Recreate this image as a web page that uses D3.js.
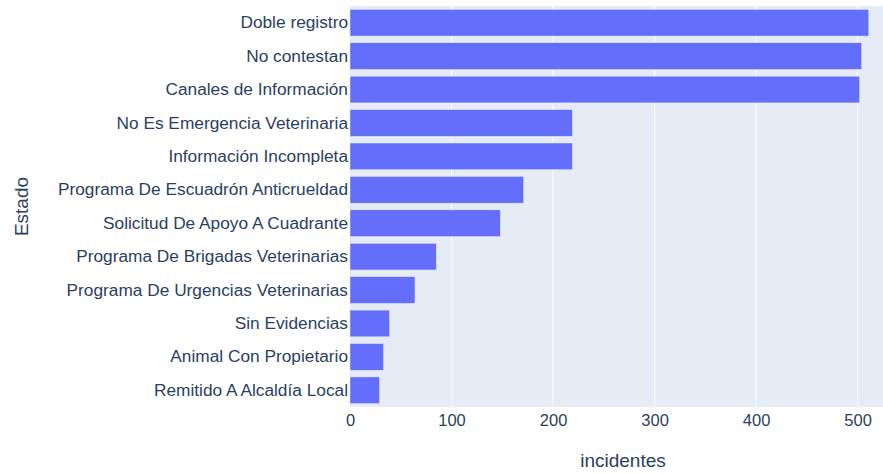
<!DOCTYPE html>
<html>
<head>
<meta charset="utf-8">
<script src="https://cdn.jsdelivr.net/npm/d3@7"></script>
<style>
  body { margin: 0; background: #fff; }
  text { font-family: "Liberation Sans", Arial, sans-serif; fill: #2a3f5f; }
</style>
</head>
<body>
<div id="chart"></div>
<script>
const width = 883;
const height = 473;

const categories = [
    "Doble registro",
    "No contestan",
    "Canales de Información",
    "No Es Emergencia Veterinaria",
    "Información Incompleta",
    "Programa De Escuadrón Anticrueldad",
    "Solicitud De Apoyo A Cuadrante",
    "Programa De Brigadas Veterinarias",
    "Programa De Urgencias Veterinarias",
    "Sin Evidencias",
    "Animal Con Propietario",
    "Remitido A Alcaldía Local"
];
const incidentes = [511, 504, 502, 219, 219, 171, 148, 85, 64, 39, 33, 29];
const xTicks = [0, 100, 200, 300, 400, 500];

const margin = { top: 6, right: 0, bottom: 66, left: 350 };
const plotW = width - margin.left - margin.right;
const plotH = height - margin.top - margin.bottom;

const svg = d3.select('#chart')
    .append('svg')
    .attr('width', width)
    .attr('height', height);

const x = d3.scaleLinear()
    .domain([0, 525])
    .range([margin.left, margin.left + plotW]);

const y = d3.scaleBand()
    .domain(categories)
    .range([margin.top, margin.top + plotH])
    .paddingInner(0.2)
    .paddingOuter(0.1);

svg.append('rect')
    .attr('x', margin.left)
    .attr('y', margin.top)
    .attr('width', plotW)
    .attr('height', plotH)
    .attr('fill', '#e5ecf6');

// vertical grid
svg.append('g')
    .selectAll('line')
    .data(xTicks.filter(d => d > 0))
    .enter().append('line')
    .attr('x1', d => x(d))
    .attr('x2', d => x(d))
    .attr('y1', margin.top)
    .attr('y2', margin.top + plotH)
    .attr('stroke', '#fff')
    .attr('stroke-width', 1);

svg.append('g')
    .selectAll('rect')
    .data(categories)
    .enter().append('rect')
    .attr('x', x(0))
    .attr('y', d => y(d))
    .attr('width', (d, i) => x(incidentes[i]) - x(0))
    .attr('height', y.bandwidth())
    .attr('fill', '#636efa')
    .attr('stroke', '#e5ecf6')
    .attr('stroke-width', 0.5);

// x axis
const xAxis = svg.append('g')
    .attr('transform', `translate(0,${margin.top + plotH})`)
    .call(d3.axisBottom(x).tickValues(xTicks).tickSize(0).tickPadding(4));
xAxis.select('.domain').remove();
xAxis.selectAll('text')
    .style('font-size', '16.5px')
    .attr('fill', '#2a3f5f')
    .attr('dy', '0.9em');

// y axis
const yAxis = svg.append('g')
    .attr('transform', `translate(${margin.left},0)`)
    .call(d3.axisLeft(y).tickSize(0).tickPadding(2));
yAxis.select('.domain').remove();
yAxis.selectAll('text')
    .style('font-size', '17.3px')
    .attr('fill', '#2a3f5f');

svg.append('text')
    .attr('x', 623)
    .attr('y', 467)
    .attr('text-anchor', 'middle')
    .style('font-size', '19px')
    .text('incidentes');

svg.append('text')
    .attr('transform', `translate(28,${margin.top + plotH / 2}) rotate(-90)`)
    .attr('text-anchor', 'middle')
    .style('font-size', '19px')
    .text('Estado');
</script>
</body>
</html>
